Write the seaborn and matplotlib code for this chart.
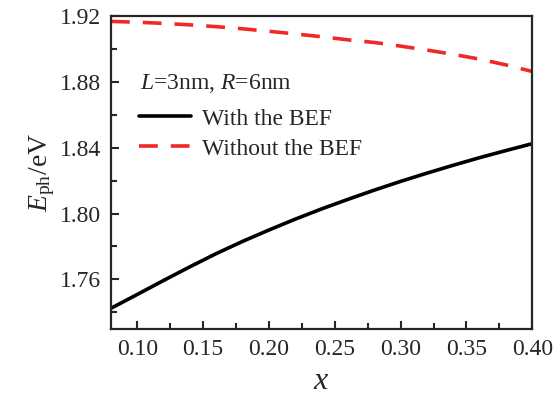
import pandas as pd
import matplotlib
matplotlib.use('Agg')
import matplotlib.pyplot as plt
from matplotlib.ticker import MultipleLocator
import seaborn as sns

# Photon energy vs x
x = [0.08, 0.10, 0.12, 0.14, 0.16, 0.18, 0.20, 0.22, 0.24,
     0.26, 0.28, 0.30, 0.32, 0.34, 0.36, 0.38, 0.40]
with_bef = [1.7425, 1.7509, 1.7594, 1.7677, 1.7757, 1.7831, 1.7900, 1.7966, 1.8028,
            1.8086, 1.8142, 1.8195, 1.8245, 1.8293, 1.8339, 1.8382, 1.8424]
without_bef = [1.9166, 1.9161, 1.9154, 1.9145, 1.9134, 1.9121, 1.9106, 1.9090, 1.9073,
               1.9054, 1.9038, 1.9016, 1.8992, 1.8966, 1.8937, 1.8902, 1.8862]
labels = ['With the BEF', 'Without the BEF']

df = pd.DataFrame({
    'x': x * 2,
    'E': with_bef + without_bef,
    'case': [labels[0]] * len(x) + [labels[1]] * len(x),
})

sns.set_style('ticks')
plt.rcParams['font.family'] = ['Liberation Serif', 'DejaVu Serif']
plt.rcParams['mathtext.fontset'] = 'custom'
plt.rcParams['mathtext.rm'] = 'Liberation Serif'
plt.rcParams['mathtext.it'] = 'Liberation Serif:italic'

red = '#f02828'
dash = (5.2, 3.6)

fig = plt.figure(figsize=(5.55, 4.05), dpi=100)
ax = fig.add_axes([0.2, 0.188, 0.759, 0.773])

sns.lineplot(data=df, x='x', y='E', hue='case', style='case',
             palette={labels[0]: 'black', labels[1]: red},
             dashes={labels[0]: '', labels[1]: dash},
             linewidth=2.6, ax=ax, legend=False)

ax.set_xlim(0.08, 0.40)
ax.set_ylim(1.73, 1.92)
ax.xaxis.set_minor_locator(MultipleLocator(0.025))
ax.yaxis.set_minor_locator(MultipleLocator(0.02))
ax.set_xticks([0.10, 0.15, 0.20, 0.25, 0.30, 0.35, 0.40])
ax.set_yticks([1.76, 1.80, 1.84, 1.88, 1.92])
ax.xaxis.set_major_formatter(lambda v, p: f'{v:.2f}')
ax.yaxis.set_major_formatter(lambda v, p: f'{v:.2f}')
ax.tick_params(which='both', direction='in', width=1.5, labelsize=17)
ax.tick_params(which='major', length=6, pad=7)
ax.tick_params(which='minor', length=4)
for s in ax.spines.values():
    s.set_visible(True)
    s.set_linewidth(1.6)

ax.set_xlabel('$x$', fontsize=23, labelpad=5)
ax.set_ylabel('$E_{\\mathrm{ph}}$/eV', fontsize=20, labelpad=2)

ax.text(0.07, 0.785, '$L$=3nm, $R$=6nm', transform=ax.transAxes, fontsize=17,
        va='center', ha='left')
handles = [plt.Line2D([], [], color='black', lw=2.6),
           plt.Line2D([], [], color=red, lw=2.6, dashes=dash)]
ax.legend(handles, labels, loc='upper left', bbox_to_anchor=(0.045, 0.735),
          frameon=False, fontsize=17, handlelength=2.2, handletextpad=0.45,
          labelspacing=0.35, borderaxespad=0)

fig.savefig('out.png', dpi=100)
